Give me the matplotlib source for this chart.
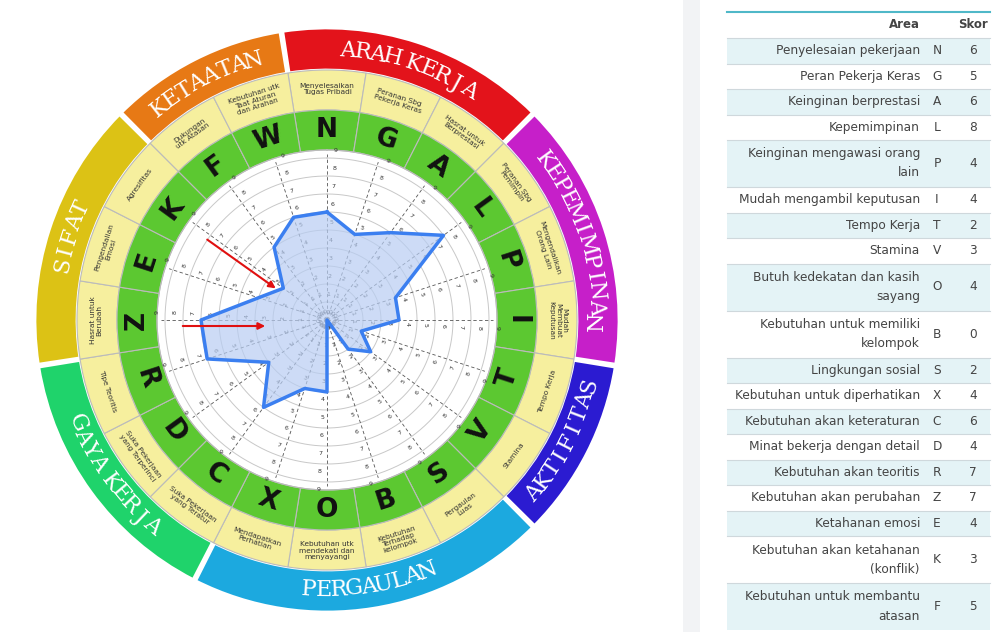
import numpy as np
import matplotlib
matplotlib.use("Agg")
import matplotlib.pyplot as plt

letters = ["N","G","A","L","P","I","T","V","S","B","O","X","C","D","R","Z","E","K","F","W"]
scores  = [6,5,6,8,4,4,2,3,2,0,4,4,6,4,7,7,4,3,5,6]
sector_labels = ["Menyelesaikan\nTugas Pribadi","Peranan Sbg\nPekerja Keras","Hasrat untuk\nBerprestasi",
    "Peranan Sbg\nPemimpin","Mengendalikan\nOrang Lain","Mudah\nMembuat\nKeputusan","Tempo Kerja","Stamina",
    "Pergaulan\nLuas","Kebutuhan\nTerhadap\nkelompok","Kebutuhan utk\nmendekati dan\nmenyayangi",
    "Mendapatkan\nPerhatian","Suka Pekerjaan\nyang Teratur","Suka Pekerjaan\nyang Terperinci",
    "Tipe Teoritis","Hasrat untuk\nBerubah","Pengendalian\nEmosi","Agresifitas","Dukungan\nutk Atasan",
    "Kebutuhan utk\nTaat Aturan\ndan Arahan"]
groups = [("ARAH KERJA",0,3,"#e3131b"),("KEPEMIMPINAN",3,3,"#c61fc9"),("AKTIFITAS",6,2,"#2b1bd1"),
          ("PERGAULAN",8,4,"#1ca9df"),("GAYA KERJA",12,3,"#1fd36b"),("SIFAT",15,3,"#dcc215"),
          ("KETAATAN",18,2,"#e77915")]

table_area = ["Penyelesaian pekerjaan","Peran Pekerja Keras","Keinginan berprestasi","Kepemimpinan",
    "Keinginan mengawasi orang\nlain","Mudah mengambil keputusan","Tempo Kerja","Stamina",
    "Butuh kedekatan dan kasih\nsayang","Kebutuhan untuk memiliki\nkelompok","Lingkungan sosial",
    "Kebutuhan untuk diperhatikan","Kebutuhan akan keteraturan","Minat bekerja dengan detail",
    "Kebutuhan akan teoritis","Kebutuhan akan perubahan","Ketahanan emosi",
    "Kebutuhan akan ketahanan\n(konflik)","Kebutuhan untuk membantu\natasan"]
table_letter = ["N","G","A","L","P","I","T","V","O","B","S","X","C","D","R","Z","E","K","F"]
table_score = [6,5,6,8,4,4,2,3,4,0,2,4,6,4,7,7,4,3,5]

W, H = 1006, 632
fig = plt.figure(figsize=(W/100, H/100), dpi=100)
bg = fig.add_axes([0,0,1,1]); bg.set_xlim(0,W); bg.set_ylim(H,0); bg.axis("off")
bg.add_patch(plt.Rectangle((683,0),17,H,color="#f2f3f5",lw=0))

bg.plot([727,990],[12,12],color="#4fb8c8",lw=1.5)
bg.text(920,25,"Area",ha="right",va="center",fontsize=8.5,weight="bold",color="#444")
bg.text(973,25,"Skor",ha="center",va="center",fontsize=8.5,weight="bold",color="#444")
y = 38
for i,(a,l,s) in enumerate(zip(table_area,table_letter,table_score)):
    h = 47 if "\n" in a else 25.5
    if i % 2 == 0:
        bg.add_patch(plt.Rectangle((727,y),263,h,color="#e4f3f6",lw=0))
    bg.plot([727,990],[y,y],color="#cfd8dc",lw=0.8)
    bg.text(920,y+h/2,a,ha="right",va="center",fontsize=8.7,color="#444",linespacing=1.6)
    bg.text(937,y+h/2,l,ha="center",va="center",fontsize=8.7,color="#444")
    bg.text(973,y+h/2,str(s),ha="center",va="center",fontsize=8.7,color="#444")
    y += h

cx, cy, R = 327, 320, 294
ax = fig.add_axes([(cx-R)/W,(H-cy-R)/H,2*R/W,2*R/H],projection="polar")
ax.set_theta_zero_location("N"); ax.set_theta_direction(-1)
ax.set_ylim(0,R); ax.axis("off")
step = np.radians(18)
th = np.arange(20)*step

def rot(adeg):
    adeg %= 360
    return -adeg if (adeg <= 90 or adeg >= 270) else 180-adeg

for name,s,n,c in groups:
    t0 = s*step - step/2
    ax.bar(t0+n*step/2, 42, width=n*step-0.01, bottom=250, color=c, edgecolor="white", lw=2)
    mid = t0+n*step/2
    bottom_half = np.pi/2 < (mid % (2*np.pi)) < 1.5*np.pi
    ws = [0.028 if ch == " " else (0.068 if ch in "MW" else 0.056) for ch in name]
    total = sum(ws)
    pos = -total/2
    for ch,w in zip(name,ws):
        off = pos + w/2
        pos += w
        t = mid - off if bottom_half else mid + off
        ax.text(t,270,ch,ha="center",va="center",rotation=rot(np.degrees(t)),rotation_mode="anchor",
                fontsize=16,color="white",family="DejaVu Serif")
ax.bar(th,40,width=step,bottom=210,color="#f6ef9e",edgecolor="#bbbbbb",lw=0.8)
ax.bar(th,40,width=step,bottom=170,color="#5cc831",edgecolor="#bbbbbb",lw=0.8)
for i in range(20):
    a = i*18
    ax.text(th[i],190,letters[i],ha="center",va="center",rotation=rot(a),rotation_mode="anchor",
            fontsize=19,weight="bold",color="#111")
    ax.text(th[i],231,sector_labels[i],ha="center",va="center",rotation=rot(a),rotation_mode="anchor",
            fontsize=5.3,color="#333",linespacing=1.1)

sc = 18
circ = np.linspace(0,2*np.pi,300)
for v in range(1,10):
    ax.plot(circ,np.full_like(circ,v*sc),color="#c8c8c8",lw=0.7)
ax.plot(circ,np.full_like(circ,170),color="#bbbbbb",lw=0.8)
for i in range(20):
    ax.plot([th[i],th[i]],[0,166],color="#555",lw=0.6,ls=(0,(4,3)))
    for v in range(10):
        ax.text(th[i]+0.05,v*sc+8,str(v),ha="center",va="center",fontsize=4.5,
                rotation=rot(i*18),color="#333")
vals = np.array(scores+[scores[0]])*sc
tt = np.append(th,th[0])
ax.fill(tt,vals,color="#b8cdf3",alpha=0.7,zorder=3)
ax.plot(tt,vals,color="#3b7ff0",lw=2.5,zorder=4)

top = fig.add_axes([0,0,1,1]); top.set_xlim(0,W); top.set_ylim(H,0); top.axis("off")
top.annotate("",xy=(278,290),xytext=(205,238),arrowprops=dict(arrowstyle="-|>",color="#e01010",lw=1.5))
top.annotate("",xy=(268,326),xytext=(180,326),arrowprops=dict(arrowstyle="-|>",color="#e01010",lw=1.5))
fig.savefig("out.png",dpi=100)
